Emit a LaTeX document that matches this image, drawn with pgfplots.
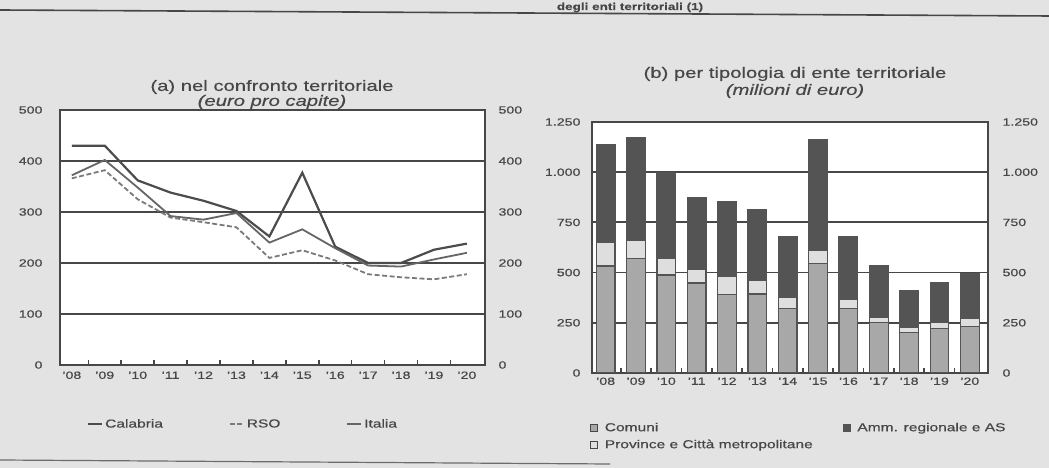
\documentclass[border=0pt]{standalone}
\usepackage{fontspec}
\setmainfont{Liberation Sans}[FakeStretch=1.35, FakeBold=0.5]
\usepackage{pgfplots}
\pgfplotsset{compat=1.18}
\usepackage{pgfplotstable}

\definecolor{bg}{gray}{0.89}
\definecolor{ink}{gray}{0.28}
\definecolor{lineA}{gray}{0.30}
\definecolor{lineB}{gray}{0.40}
\definecolor{lineC}{gray}{0.48}
\definecolor{amm}{gray}{0.33}
\definecolor{com}{gray}{0.66}
\definecolor{prov}{gray}{0.87}

\newcommand\ticks{\fontsize{10.5}{12}\selectfont}
\newcommand\legendfont{\fontsize{11.5}{13}\selectfont}
\newcommand\titlefont{\fontsize{15}{18}\selectfont}

% investment spending per capita (euro)
\pgfplotstableread{
x Calabria RSO Italia
0 430 366 372
1 430 382 402
2 362 325 348
3 338 289 292
4 322 280 285
5 302 270 298
6 252 210 240
7 377 225 266
8 232 205 229
9 200 178 195
10 200 172 193
11 226 168 207
12 238 178 220
}\percapita

% investment spending by type of body (million euro)
\pgfplotstableread{
x Comuni Province Amm
0 533 117 485
1 570 92 508
2 488 84 428
3 448 67 360
4 392 90 373
5 393 67 355
6 320 58 302
7 547 66 547
8 323 42 315
9 250 25 260
10 202 25 183
11 220 30 200
12 230 42 223
}\enti

\pgfplotsset{
  panel/.style={
    scale only axis, anchor=south west,
    /pgf/number format/assume math mode=true,
    axis background/.style={fill=white},
    axis line style={ink, line width=2pt},
    ymajorgrids, grid style={ink, line width=1.8pt},
    ytick style={draw=none},
    yticklabel style={font=\ticks, text=ink},
    xticklabel style={font=\ticks, text=ink},
    xtick={0,...,12},
    xticklabels={’08,’09,’10,’11,’12,’13,’14,’15,’16,’17,’18,’19,’20},
    major x tick style={draw=none},
    minor xtick={0.5,1.5,...,11.5},
    minor x tick style={ink, line width=1.6pt},
    minor tick length=5pt, tick align=inside, xtick pos=bottom,
  },
  rightlabels/.style={
    scale only axis, anchor=south west,
    /pgf/number format/assume math mode=true,
    axis x line=none, axis y line*=right,
    axis line style={draw=none},
    ytick style={draw=none},
    yticklabel style={font=\ticks, text=ink},
  },
}

\begin{document}
\begin{tikzpicture}[x=1pt,y=1pt]
\useasboundingbox (0,0) rectangle (1049,468);
\fill[bg] (0,0) rectangle (1049,468);

% heading rule, with the end of the heading above it
\node[font=\fontsize{10}{12}\selectfont\bfseries, text=ink, anchor=base] at (630,458) {degli enti territoriali (1)};
\draw[ink, line width=1.6pt] (0,458) -- (1049,452);
\draw[ink!80, line width=1.2pt] (0,8) -- (610,4);

% panel titles
\node[font=\titlefont, text=ink] at (272,381) {(a) nel confronto territoriale};
\node[font=\titlefont\itshape, text=ink] at (272,366) {(euro pro capite)};
\node[font=\titlefont, text=ink] at (795,394) {(b) per tipologia di ente territoriale};
\node[font=\titlefont\itshape, text=ink] at (795,377) {(milioni di euro)};

% (a) per-capita lines
\begin{axis}[panel,
  at={(60pt,103pt)}, width=425pt, height=255pt,
  xmin=-0.36, xmax=12.55, ymin=0, ymax=500,
  ytick={0,100,...,500},
  yticklabel style={xshift=-14pt},
  xticklabel style={yshift=-3pt},
  legend columns=3,
  legend style={at={(0.063,-0.232)}, anchor=west, draw=none, fill=none,
    font=\legendfont, text=ink, inner sep=0pt,
    /tikz/every even column/.append style={column sep=64pt}},
  legend image code/.code={\draw[#1] (0pt,0pt) -- (14pt,0pt);},
]
\addplot[lineA, line width=2.2pt] table[x=x,y=Calabria]{\percapita};
\addlegendentry{Calabria}
\addplot[lineC, line width=1.8pt, dash pattern=on 5pt off 2.5pt] table[x=x,y=RSO]{\percapita};
\addlegendentry{RSO}
\addplot[lineB, line width=1.8pt] table[x=x,y=Italia]{\percapita};
\addlegendentry{Italia}
\end{axis}
\begin{axis}[rightlabels,
  at={(60pt,103pt)}, width=425pt, height=255pt,
  xmin=-0.36, xmax=12.55, ymin=0, ymax=500,
  ytick={0,100,...,500},
  yticklabel style={xshift=10pt},
]
\end{axis}

% (b) stacked bars by type of body
\begin{axis}[panel,
  at={(592pt,95pt)}, width=396pt, height=251pt,
  xmin=-0.45, xmax=12.6, ymin=0, ymax=1250,
  ybar stacked, bar width=18.7pt,
  ytick={0,250,...,1250},
  yticklabels={0,250,500,750,1.000,1.250},
  yticklabel style={xshift=-8pt},
  xticklabel style={yshift=-1pt},
  legend columns=2, legend cell align=left,
  legend style={at={(-0.005,-0.19)}, anchor=north west, draw=none, fill=none,
    font=\legendfont, text=ink, inner sep=0pt, row sep=3pt,
    /tikz/every even column/.append style={column sep=28pt}},
  legend image code/.code={\draw[#1, line width=0.8pt] (0pt,-3.5pt) rectangle (7pt,3.5pt); \path (12pt,0pt);},
]
\addlegendimage{fill=com, draw=ink}
\addlegendentry{Comuni}
\addlegendimage{fill=amm, draw=amm}
\addlegendentry{Amm. regionale e AS}
\addlegendimage{fill=prov, draw=ink}
\addlegendentry{Province e Città metropolitane}
\addplot[fill=com, draw=amm, line width=1.2pt] table[x=x,y=Comuni]{\enti};
\addplot[fill=prov, draw=amm, line width=1.2pt] table[x=x,y=Province]{\enti};
\addplot[fill=amm, draw=amm, line width=1.2pt] table[x=x,y=Amm]{\enti};
\end{axis}
\begin{axis}[rightlabels,
  at={(592pt,95pt)}, width=396pt, height=251pt,
  xmin=-0.45, xmax=12.6, ymin=0, ymax=1250,
  ytick={0,250,...,1250},
  yticklabels={0,250,500,750,1.000,1.250},
  yticklabel style={xshift=11pt},
]
\end{axis}
\end{tikzpicture}
\end{document}
